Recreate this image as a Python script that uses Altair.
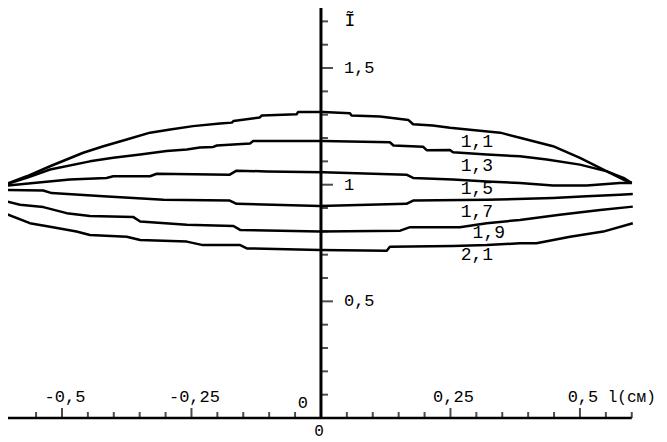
import altair as alt
import pandas as pd

# ---- curve data (x in cm, y = relative intensity) ----
curve_names = ["1,1", "1,3", "1,5", "1,7", "1,9", "2,1"]

c1_x = [-0.620, -0.568, -0.523, -0.459, -0.420, -0.375, -0.330, -0.291, -0.247, -0.195, -0.172,
        -0.169, -0.118, -0.114, -0.047, -0.044, 0.004, 0.056, 0.059, 0.114, 0.169, 0.178, 0.216,
        0.249, 0.346, 0.384, 0.448, 0.500, 0.552, 0.591, 0.600]
c1_y = [0.993, 1.036, 1.079, 1.137, 1.165, 1.194, 1.223, 1.237, 1.251, 1.262, 1.266, 1.273, 1.288,
        1.297, 1.302, 1.312, 1.312, 1.306, 1.297, 1.292, 1.277, 1.259, 1.254, 1.244, 1.223, 1.201,
        1.165, 1.115, 1.057, 1.014, 1.007]

c2_x = [-0.620, -0.568, -0.523, -0.446, -0.401, -0.349, -0.298, -0.259, -0.234, -0.208, -0.201,
        -0.137, -0.131, 0.004, 0.133, 0.140, 0.197, 0.204, 0.249, 0.255, 0.320, 0.384, 0.436,
        0.500, 0.552, 0.584, 0.600]
c2_y = [0.993, 1.029, 1.065, 1.100, 1.115, 1.129, 1.144, 1.151, 1.159, 1.162, 1.168, 1.177, 1.187,
        1.187, 1.182, 1.168, 1.163, 1.148, 1.149, 1.139, 1.129, 1.122, 1.108, 1.086, 1.057, 1.029,
        1.007]

c3_x = [-0.620, -0.555, -0.485, -0.414, -0.401, -0.330, -0.317, -0.176, -0.163, -0.105, 0.004,
        0.165, 0.178, 0.255, 0.320, 0.384, 0.448, 0.513, 0.577, 0.600]
c3_y = [0.993, 1.007, 1.022, 1.029, 1.036, 1.036, 1.047, 1.043, 1.060, 1.057, 1.053, 1.043, 1.029,
        1.022, 1.014, 1.007, 0.996, 0.996, 1.007, 1.007]

c4_x = [-0.620, -0.536, -0.520, -0.420, -0.304, -0.176, -0.163, -0.002, 0.165, 0.178, 0.320,
        0.448, 0.513, 0.577, 0.602]
c4_y = [0.978, 0.975, 0.964, 0.950, 0.935, 0.932, 0.918, 0.909, 0.918, 0.932, 0.935, 0.943, 0.950,
        0.957, 0.960]

c5_x = [-0.620, -0.581, -0.536, -0.491, -0.446, -0.362, -0.349, -0.259, -0.169, -0.156, -0.002,
        0.153, 0.172, 0.268, 0.320, 0.384, 0.461, 0.539, 0.602]
c5_y = [0.935, 0.914, 0.904, 0.878, 0.866, 0.861, 0.842, 0.828, 0.823, 0.806, 0.799, 0.803, 0.818,
        0.818, 0.835, 0.849, 0.871, 0.892, 0.906]

c6_x = [-0.620, -0.562, -0.523, -0.472, -0.446, -0.375, -0.349, -0.259, -0.228, -0.156, -0.143,
        -0.002, 0.127, 0.133, 0.255, 0.320, 0.384, 0.416, 0.481, 0.545, 0.602]
c6_y = [0.885, 0.835, 0.820, 0.799, 0.784, 0.777, 0.763, 0.756, 0.741, 0.741, 0.727, 0.720, 0.717,
        0.734, 0.737, 0.741, 0.749, 0.749, 0.777, 0.799, 0.835]

# curve label anchors (data units)
label_x = [0.301, 0.301, 0.301, 0.301, 0.324, 0.301]
label_y = [1.184, 1.080, 0.982, 0.883, 0.793, 0.697]

# ---- axes ----
x_axis_range = [-0.615, 0.600]
x_minor = [-0.55, -0.45, -0.40, -0.35, -0.30, -0.20, -0.15, -0.10, -0.05,
           0.05, 0.10, 0.15, 0.20, 0.30, 0.35, 0.40, 0.45, 0.55, 0.60]
x_major = [-0.5, -0.25, 0.25, 0.5]
x_labels = ["-0,5", "-0,25", "0,25", "0,5"]
x_title = "l(см)"

y_axis_range = [0.0, 1.8]
y_minor = [0.1, 0.2, 0.3, 0.4, 0.6, 0.7, 0.8, 0.9, 1.1, 1.2, 1.3, 1.4, 1.6, 1.7, 1.8]
y_major = [0.5, 1.0, 1.5]
y_labels = ["0,5", "1", "1,5"]
y_title = "Ĩ"

FONT = "Liberation Mono"

rows = []
for name, xs, ys in zip(curve_names, [c1_x, c2_x, c3_x, c4_x, c5_x, c6_x],
                        [c1_y, c2_y, c3_y, c4_y, c5_y, c6_y]):
    for i, (xv, yv) in enumerate(zip(xs, ys)):
        rows.append({"curve": name, "x": xv, "y": yv, "i": i})
df = pd.DataFrame(rows)

XS = alt.Scale(domain=[-0.6042, 0.6526], nice=False, zero=False)
YS = alt.Scale(domain=[0, 1.7573], nice=False, zero=False)


def X(f):
    return alt.X(f, type="quantitative", scale=XS, axis=None)


def Y(f):
    return alt.Y(f, type="quantitative", scale=YS, axis=None)


lines = alt.Chart(df).mark_line(color="black", strokeWidth=2.5, strokeJoin="round").encode(
    x=X("x"), y=Y("y"), detail="curve:N", order="i:Q"
)

curve_lab = alt.Chart(pd.DataFrame({"t": curve_names, "x": label_x, "y": label_y})).mark_text(
    font=FONT, fontSize=18, color="black", align="center", baseline="middle"
).encode(x=X("x"), y=Y("y"), text="t:N")

x_line = alt.Chart(pd.DataFrame({"x": [x_axis_range[0]], "x2": [x_axis_range[1]], "y": [0.0]})).mark_rule(
    color="black", strokeWidth=2.5
).encode(x=X("x"), x2="x2", y=Y("y"))

y_line = alt.Chart(pd.DataFrame({"x": [0.0], "y": [y_axis_range[0]], "y2": [y_axis_range[1]]})).mark_rule(
    color="black", strokeWidth=3
).encode(x=X("x"), y=Y("y"), y2="y2")

xt_minor = alt.Chart(pd.DataFrame({"x": x_minor, "y": 0.0})).mark_tick(
    orient="vertical", size=6, thickness=2, color="black", yOffset=-3
).encode(x=X("x"), y=Y("y"))
xt_major = alt.Chart(pd.DataFrame({"x": x_major, "y": 0.0})).mark_tick(
    orient="vertical", size=10, thickness=2, color="black", yOffset=-5
).encode(x=X("x"), y=Y("y"))

yt_minor = alt.Chart(pd.DataFrame({"x": 0.0, "y": y_minor})).mark_tick(
    orient="horizontal", size=7, thickness=2, color="black", xOffset=3.5
).encode(x=X("x"), y=Y("y"))
yt_major = alt.Chart(pd.DataFrame({"x": 0.0, "y": y_major})).mark_tick(
    orient="horizontal", size=12, thickness=2, color="black", xOffset=6
).encode(x=X("x"), y=Y("y"))

x_lab = alt.Chart(pd.DataFrame({"x": x_major, "y": 0.0, "t": x_labels})).mark_text(
    font=FONT, fontSize=17, color="black", align="center", baseline="alphabetic", dy=-16, dx=3
).encode(x=X("x"), y=Y("y"), text="t:N")

x_tit = alt.Chart(pd.DataFrame({"x": [x_axis_range[1]], "y": [0.0], "t": [x_title]})).mark_text(
    font=FONT, fontSize=16, color="black", align="center", baseline="alphabetic", dy=-16, dx=0
).encode(x=X("x"), y=Y("y"), text="t:N")

y_lab = alt.Chart(pd.DataFrame({"x": 0.0, "y": y_major, "t": y_labels})).mark_text(
    font=FONT, fontSize=17, color="black", align="left", baseline="middle", dx=23
).encode(x=X("x"), y=Y("y"), text="t:N")

y_tit = alt.Chart(pd.DataFrame({"x": [0.0], "y": [y_minor[-2]], "t": [y_title]})).mark_text(
    font=FONT, fontSize=18, color="black", align="center", baseline="middle", dx=29
).encode(x=X("x"), y=Y("y"), text="t:N")

zero_left = alt.Chart(pd.DataFrame({"x": [0.0], "y": [0.0], "t": ["0"]})).mark_text(
    font=FONT, fontSize=17, color="black", align="center", baseline="middle", dx=-18, dy=-15
).encode(x=X("x"), y=Y("y"), text="t:N")

zero_below = alt.Chart(pd.DataFrame({"x": [0.0], "y": [0.0], "t": ["0"]})).mark_text(
    font=FONT, fontSize=16, color="black", align="center", baseline="middle", dx=-2, dy=13
).encode(x=X("x"), y=Y("y"), text="t:N")

chart = alt.layer(
    lines, x_line, y_line, xt_minor, xt_major, yt_minor, yt_major,
    x_lab, x_tit, y_lab, y_tit, zero_left, zero_below, curve_lab
).properties(
    width=651, height=410,
    autosize=alt.AutoSizeParams(type="none"),
    padding={"left": 0, "top": 0, "right": 0, "bottom": 24},
    background="white",
).configure_view(stroke=None)

chart.save("out.html", embed_options={"renderer": "svg", "actions": False})
